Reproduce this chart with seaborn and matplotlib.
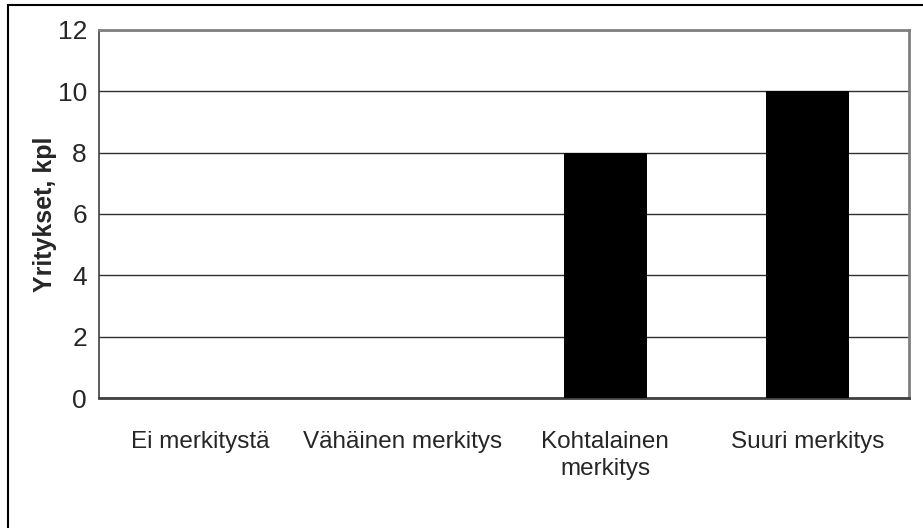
import matplotlib
matplotlib.use("Agg")
import matplotlib.pyplot as plt
import seaborn as sns
import pandas as pd
from matplotlib.patches import Rectangle

categories = ["Ei merkitystä", "Vähäinen merkitys", "Kohtalainen\nmerkitys", "Suuri merkitys"]
values = [0, 0, 8, 10]
y_ticks = [0, 2, 4, 6, 8, 10, 12]

sns.set_style("white")
plt.rcParams['font.family'] = ['Liberation Sans', 'DejaVu Sans']

df = pd.DataFrame({"kategoria": categories, "yritykset": values})

fig = plt.figure(figsize=(9.23, 5.28), dpi=100)
ax = fig.add_axes([0.1078, 0.2462, 0.877, 0.6970])

sns.barplot(data=df, x="kategoria", y="yritykset", color="black",
            width=0.41, linewidth=0, saturation=1, ax=ax, zorder=3)

ax.set_ylim(0, 12)
ax.set_xlim(-0.5, 3.5)
ax.set_yticks(y_ticks)
ax.set_yticklabels([str(t) for t in y_ticks], fontsize=19)
ax.yaxis.grid(True, color="#303030", linewidth=1)
ax.set_axisbelow(True)

# category separators as major ticks, labels on minor ticks
ax.set_xticks([-0.5, 0.5, 1.5, 2.5, 3.5])
ax.set_xticklabels([])
ax.set_xticks(range(len(categories)), minor=True)
ax.set_xticklabels(categories, minor=True, fontsize=17.5, linespacing=1.3)
ax.tick_params(axis="x", which="major", direction="out", length=9, width=1, color="#303030")
ax.tick_params(axis="x", which="minor", length=0, pad=24)
ax.tick_params(axis="y", direction="out", length=6, width=1, color="#303030", pad=3)

ax.set_xlabel("")
ax.set_ylabel("Yritykset, kpl", fontsize=18, fontweight="bold")
ax.yaxis.set_label_coords(-0.052, 0.5)

for side in ["top", "right"]:
    ax.spines[side].set_color("#808080")
    ax.spines[side].set_linewidth(2)
ax.spines["left"].set_color("#404040")
ax.spines["left"].set_linewidth(1.2)
ax.spines["bottom"].set_color("#404040")
ax.spines["bottom"].set_linewidth(2)

# outer chart border (cut off at right and bottom)
fig.patches.append(Rectangle((8 / 923, -0.05), 1.1, 1 - 5 / 528 + 0.05,
                             transform=fig.transFigure, fill=False,
                             edgecolor="black", linewidth=1.5))

fig.savefig("out.png", dpi=100)
